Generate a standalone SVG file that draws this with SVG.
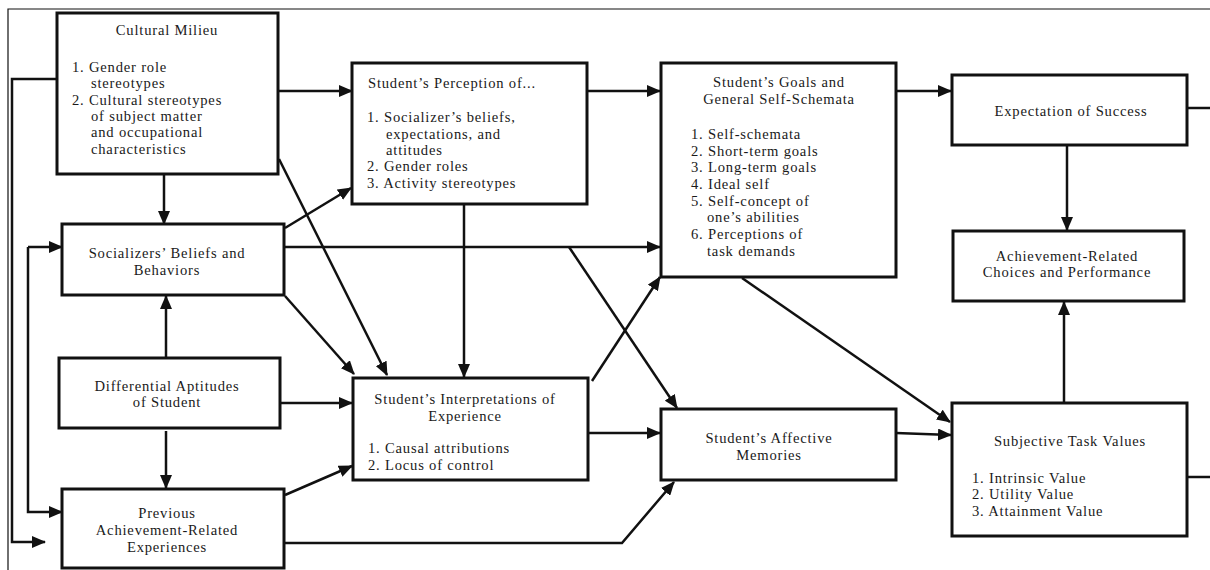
<svg xmlns="http://www.w3.org/2000/svg" width="1210" height="570" viewBox="0 0 1210 570">
<style>
.box{fill:#fff;stroke:#111;stroke-width:3}
.t{font-family:"Liberation Serif","Times New Roman",serif;font-size:14.6px;letter-spacing:0.8px;fill:#1a1a1a}
.c{text-anchor:middle}
.ln{fill:none;stroke:#111;stroke-width:2.5}
.frame{fill:none;stroke:#111;stroke-width:1.2}
</style>
<defs>
<marker id="ah" markerUnits="userSpaceOnUse" markerWidth="14" markerHeight="12" refX="13" refY="6" orient="auto">
<path d="M0,0 L14,6 L0,12 Z" fill="#111"/>
</marker>
</defs>
<rect width="1210" height="570" fill="#fff"/>
<g id="frame">
<path class="frame" d="M8,570 L8,9 L1210,9"/>
</g>
<g id="connectors">
<path class="ln" d="M57,79 L12,79 L12,542 L45,542" marker-end="url(#ah)"/>
<path class="ln" d="M28,247 L28,512 L62,512" marker-end="url(#ah)"/>
<path class="ln" d="M28,247 L62,247" marker-end="url(#ah)"/>
<path class="ln" d="M278,91 L352,91" marker-end="url(#ah)"/>
<path class="ln" d="M164,174 L164,224" marker-end="url(#ah)"/>
<path class="ln" d="M279,159 L387,375" marker-end="url(#ah)"/>
<path class="ln" d="M285,296 L354,374" marker-end="url(#ah)"/>
<path class="ln" d="M285,228 L351,188" marker-end="url(#ah)"/>
<path class="ln" d="M284,247 L660,247" marker-end="url(#ah)"/>
<path class="ln" d="M569,247 L677,408" marker-end="url(#ah)"/>
<path class="ln" d="M587,91 L660,91" marker-end="url(#ah)"/>
<path class="ln" d="M464,204 L464,377" marker-end="url(#ah)"/>
<path class="ln" d="M896,91 L951,91" marker-end="url(#ah)"/>
<path class="ln" d="M1067,145 L1067,230" marker-end="url(#ah)"/>
<path class="ln" d="M742,278 L950,422" marker-end="url(#ah)"/>
<path class="ln" d="M166,358 L166,296" marker-end="url(#ah)"/>
<path class="ln" d="M166,431 L166,488" marker-end="url(#ah)"/>
<path class="ln" d="M280,403 L352,403" marker-end="url(#ah)"/>
<path class="ln" d="M285,495 L352,466" marker-end="url(#ah)"/>
<path class="ln" d="M284,543 L622,543 L674,482" marker-end="url(#ah)"/>
<path class="ln" d="M592,381 L660,277" marker-end="url(#ah)"/>
<path class="ln" d="M588,433 L660,433" marker-end="url(#ah)"/>
<path class="ln" d="M896,433 L951,435" marker-end="url(#ah)"/>
<path class="ln" d="M1064,403 L1064,302" marker-end="url(#ah)"/>
<path class="ln" d="M1187,108 L1210,108"/>
<path class="ln" d="M1187,477 L1210,477"/>
</g>
<g id="cultural-milieu">
<rect class="box" x="57" y="13" width="221" height="161"/>
<text class="t c" x="167" y="35">Cultural Milieu</text>
<text class="t" x="72" y="72">1. Gender role</text>
<text class="t" x="91" y="88.3">stereotypes</text>
<text class="t" x="72" y="104.6">2. Cultural stereotypes</text>
<text class="t" x="91" y="120.9">of subject matter</text>
<text class="t" x="91" y="137.2">and occupational</text>
<text class="t" x="91" y="153.5">characteristics</text>
</g>
<g id="perception">
<rect class="box" x="352" y="63" width="235" height="141"/>
<text class="t" x="368" y="87.5">Student’s Perception of...</text>
<text class="t" x="367" y="122.3">1. Socializer’s beliefs,</text>
<text class="t" x="386" y="138.6">expectations, and</text>
<text class="t" x="386" y="154.9">attitudes</text>
<text class="t" x="367" y="171.2">2. Gender roles</text>
<text class="t" x="367" y="187.5">3. Activity stereotypes</text>
</g>
<g id="goals">
<rect class="box" x="661" y="63" width="235" height="214"/>
<text class="t c" x="779" y="87.3">Student’s Goals and</text>
<text class="t c" x="779" y="104">General Self-Schemata</text>
<text class="t" x="691" y="139">1. Self-schemata</text>
<text class="t" x="691" y="155.7">2. Short-term goals</text>
<text class="t" x="691" y="172.3">3. Long-term goals</text>
<text class="t" x="691" y="189">4. Ideal self</text>
<text class="t" x="691" y="205.7">5. Self-concept of</text>
<text class="t" x="707" y="222.3">one’s abilities</text>
<text class="t" x="691" y="239">6. Perceptions of</text>
<text class="t" x="707" y="255.7">task demands</text>
</g>
<g id="expectation">
<rect class="box" x="952" y="75" width="235" height="70"/>
<text class="t c" x="1071" y="116">Expectation of Success</text>
</g>
<g id="achievement">
<rect class="box" x="953" y="231" width="231" height="70"/>
<text class="t c" x="1067" y="261">Achievement-Related</text>
<text class="t c" x="1067" y="277.3">Choices and Performance</text>
</g>
<g id="socializers">
<rect class="box" x="62" y="224" width="222" height="71"/>
<text class="t c" x="167" y="258.3">Socializers’ Beliefs and</text>
<text class="t c" x="167" y="275.3">Behaviors</text>
</g>
<g id="aptitudes">
<rect class="box" x="59" y="358" width="221" height="70"/>
<text class="t c" x="167" y="390.7">Differential Aptitudes</text>
<text class="t c" x="167" y="407.3">of Student</text>
</g>
<g id="previous">
<rect class="box" x="62" y="489" width="222" height="79"/>
<text class="t c" x="167" y="517.7">Previous</text>
<text class="t c" x="167" y="534.6">Achievement-Related</text>
<text class="t c" x="167" y="551.5">Experiences</text>
</g>
<g id="interpretations">
<rect class="box" x="353" y="378" width="235" height="102"/>
<text class="t c" x="465" y="404">Student’s Interpretations of</text>
<text class="t c" x="465" y="420.7">Experience</text>
<text class="t" x="368" y="453.3">1. Causal attributions</text>
<text class="t" x="368" y="470">2. Locus of control</text>
</g>
<g id="affective">
<rect class="box" x="661" y="409" width="235" height="71"/>
<text class="t c" x="769" y="442.8">Student’s Affective</text>
<text class="t c" x="769" y="459.5">Memories</text>
</g>
<g id="task-values">
<rect class="box" x="952" y="403" width="235" height="133"/>
<text class="t c" x="1070" y="446">Subjective Task Values</text>
<text class="t" x="972" y="482.7">1. Intrinsic Value</text>
<text class="t" x="972" y="499">2. Utility Value</text>
<text class="t" x="972" y="515.7">3. Attainment Value</text>
</g>
</svg>
